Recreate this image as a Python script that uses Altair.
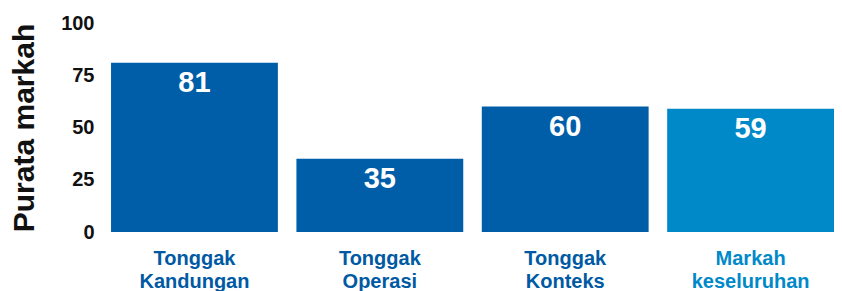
import altair as alt
import pandas as pd

categories = ["Tonggak Kandungan", "Tonggak Operasi", "Tonggak Konteks", "Markah keseluruhan"]
values = [81, 35, 60, 59]
colors = ["#005EA8", "#005EA8", "#005EA8", "#0089C9"]

df = pd.DataFrame({"cat": categories, "val": values, "col": colors})

x = alt.X("cat:N", sort=categories, title=None,
          scale=alt.Scale(paddingInner=0.1, paddingOuter=0.019, align=1),
          axis=alt.Axis(labelAngle=0, domain=False, ticks=False,
                        labelExpr="split(datum.label, ' ')",
                        labelFont="Liberation Sans", labelFontWeight="bold",
                        labelFontSize=20, labelLineHeight=23, labelPadding=16,
                        labelColor=alt.expr("datum.value == 'Markah keseluruhan' ? '#0089C9' : '#005AA3'")))
y = alt.Y("val:Q", title="Purata markah",
          scale=alt.Scale(domain=[0, 100]),
          axis=alt.Axis(values=[0, 25, 50, 75, 100], domain=False, ticks=False, grid=False,
                        labelFont="Liberation Sans", labelFontWeight="bold", labelFontSize=20,
                        labelColor="#111111", labelPadding=10,
                        titleFont="Liberation Sans", titleFontWeight="bold", titleFontSize=30,
                        titleColor="#111111", titlePadding=21))

bars = alt.Chart(df).mark_bar().encode(x=x, y=y, color=alt.Color("col:N", scale=None))
text = alt.Chart(df).mark_text(color="white", font="Liberation Sans", fontWeight="bold",
                               fontSize=29, baseline="middle", dy=20).encode(
    x=alt.X("cat:N", sort=categories), y="val:Q", text="val:Q")

chart = (bars + text).properties(
    width=730, height=209,
    autosize=alt.AutoSizeParams(type="none"),
    padding={"left": 96, "top": 15, "right": 0, "bottom": 75},
).configure_view(stroke=None)
chart.save("out.html", embed_options={"renderer": "svg", "actions": False})
